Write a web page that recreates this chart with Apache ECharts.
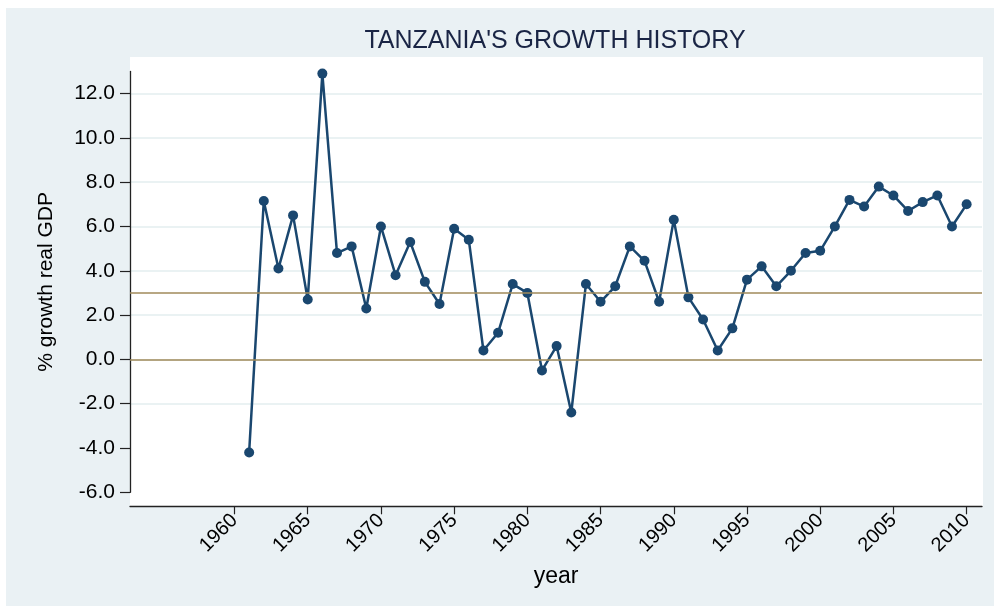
<!DOCTYPE html>
<html>
<head>
<meta charset="utf-8">
<script src="https://cdn.jsdelivr.net/npm/echarts@6/dist/echarts.min.js"></script>
<style>
  html, body { margin: 0; padding: 0; background: #ffffff; }
  #chart { position: absolute; left: 6px; top: 8px; width: 988px; height: 598px; }
</style>
</head>
<body>
<div id="chart"></div>
<script>
// ---- data ----
const years = [1961, 1962, 1963, 1964, 1965, 1966, 1967, 1968, 1969, 1970,
               1971, 1972, 1973, 1974, 1975, 1976, 1977, 1978, 1979, 1980,
               1981, 1982, 1983, 1984, 1985, 1986, 1987, 1988, 1989, 1990,
               1991, 1992, 1993, 1994, 1995, 1996, 1997, 1998, 1999, 2000,
               2001, 2002, 2003, 2004, 2005, 2006, 2007, 2008, 2009, 2010];
const growth = [-4.2, 7.15, 4.1, 6.5, 2.7, 12.9, 4.8, 5.1, 2.3, 6.0,
                3.8, 5.3, 3.5, 2.5, 5.9, 5.4, 0.4, 1.2, 3.4, 3.0,
                -0.5, 0.6, -2.4, 3.4, 2.6, 3.3, 5.1, 4.45, 2.6, 6.3,
                2.8, 1.8, 0.4, 1.4, 3.6, 4.2, 3.3, 4.0, 4.8, 4.9,
                6.0, 7.2, 6.9, 7.8, 7.4, 6.7, 7.1, 7.4, 6.0, 7.0];
const xTicks = [1960, 1965, 1970, 1975, 1980, 1985, 1990, 1995, 2000, 2005, 2010];
const yTicks = [-6, -4, -2, 0, 2, 4, 6, 8, 10, 12];
const refLines = [0, 3];
const titleText = "TANZANIA'S GROWTH HISTORY";
const xName = 'year';
const yName = '% growth real GDP';

// ---- styles ----
const FONT = '"Liberation Sans", Arial, Helvetica, sans-serif';
const NAVY = '#1a476f';
const GRIDC = '#eaf2f3';

const chart = echarts.init(document.getElementById('chart'));
const option = {
  backgroundColor: '#eaf1f4',
  animation: false,
  title: {
    text: titleText,
    left: 549,
    top: 21,
    padding: 0,
    textAlign: 'center',
    textStyle: { fontFamily: FONT, fontSize: 25, fontWeight: 'normal', color: '#1a2545' }
  },
  grid: [
    { // white plot region
      left: 124, right: 11, top: 49, bottom: 100,
      show: true, backgroundColor: '#ffffff', borderWidth: 0
    },
    { // data region
      left: 124, right: 12, top: 63.4, bottom: 113.7, show: false
    }
  ],
  xAxis: [
    { gridIndex: 0, type: 'value', min: 0, max: 1, show: false },
    {
      gridIndex: 1, type: 'value',
      min: 1952.863, max: 2011.05,
      offset: 14,
      name: xName, nameLocation: 'middle', nameGap: 59,
      nameTextStyle: { fontFamily: FONT, fontSize: 23, color: '#000' },
      axisLine: { show: true, onZero: false, lineStyle: { color: '#222', width: 1.3 } },
      axisTick: { show: true, length: 8, customValues: xTicks, lineStyle: { color: '#222', width: 1.2 } },
      axisLabel: {
        customValues: xTicks, rotate: 45, margin: 11,
        fontFamily: FONT, fontSize: 20, color: '#000',
        formatter: v => String(v)
      },
      splitLine: { show: false }
    }
  ],
  yAxis: [
    { gridIndex: 0, type: 'value', min: 0, max: 1, show: false },
    {
      gridIndex: 1, type: 'value',
      min: -6, max: 13,
      name: yName, nameLocation: 'middle', nameGap: 73, nameRotate: 90,
      nameTextStyle: { fontFamily: FONT, fontSize: 21, color: '#000' },
      axisLine: { show: true, lineStyle: { color: '#222', width: 1.3 } },
      axisTick: { show: true, length: 10, customValues: yTicks, lineStyle: { color: '#222', width: 1.2 } },
      axisLabel: {
        customValues: yTicks, margin: 15,
        fontFamily: FONT, fontSize: 21, color: '#000',
        formatter: v => Number(v).toFixed(1)
      },
      splitLine: {
        show: true, showMinLine: false,
        lineStyle: { color: ['transparent', GRIDC, GRIDC, GRIDC, GRIDC, GRIDC, GRIDC, GRIDC, GRIDC, GRIDC], width: 2 }
      }
    }
  ],
  series: [
    {
      type: 'line', xAxisIndex: 1, yAxisIndex: 1, data: [], z: 1,
      markLine: {
        silent: true, symbol: 'none', label: { show: false },
        lineStyle: { color: '#a08a5a', width: 1.5, type: 'solid', opacity: 1 },
        data: refLines.map(v => ({ yAxis: v }))
      }
    },
    {
      type: 'line', xAxisIndex: 1, yAxisIndex: 1, z: 3,
      data: years.map((y, i) => [y, growth[i]]),
      symbol: 'circle', symbolSize: 10,
      lineStyle: { color: NAVY, width: 2.5 },
      itemStyle: { color: NAVY },
      clip: false
    }
  ]
};
chart.setOption(option);
</script>
</body>
</html>
